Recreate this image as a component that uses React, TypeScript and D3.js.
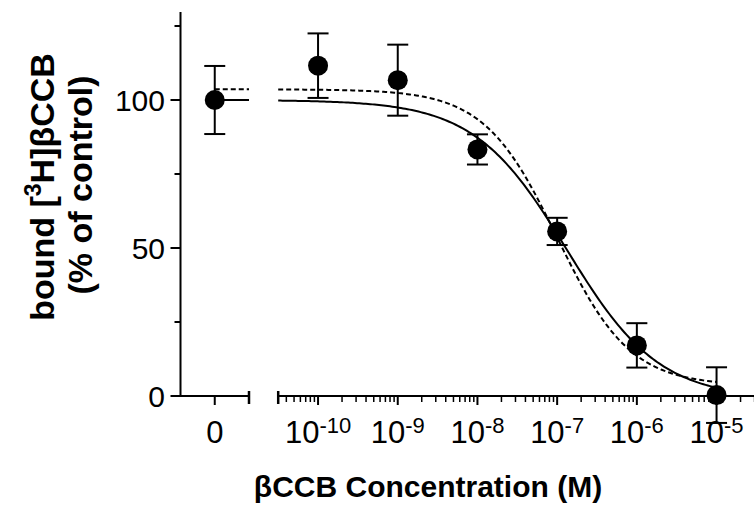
import React from "react";
import * as d3 from "d3";

// ---- data ----
const controlLabel = "0";
const controlMean = [100];
const controlErr = [11.5];
const concentrations = [1e-10, 1e-9, 1e-8, 1e-7, 1e-6, 1e-5];
const boundMean = [111.6, 106.7, 83.3, 55.6, 17.1, 0.3];
const boundErr = [10.9, 12.0, 5.1, 4.6, 7.5, 9.4];
const decadeExponents = [-10, -9, -8, -7, -6, -5];
const yTicks = [0, 25, 50, 75, 100, 125];
const yTickLabels = ["0", "", "50", "", "100", ""];
// fitted sigmoid parameters [top, bottom, logIC50, hill]
const fitSolid = [100, -1, -6.88, 0.75];
const fitDashed = [103.6, 3.5, -7.0, 0.95];

const W = 754;
const H = 507;
const FONT = "'Liberation Sans', Arial, Helvetica, sans-serif";

const yScale = d3.scaleLinear().domain([0, 125]).range([396, 26]);
const xCtrl = d3.scaleLinear().domain([-1, 1]).range([180.5, 249]);
const xLog = d3
  .scaleLog()
  .domain([Math.pow(10, -10.5), Math.pow(10, -4.5)])
  .range([278.2, 756.4]);

function sigmoid(p: number[], logx: number) {
  const [top, bottom, c, h] = p;
  return bottom + (top - bottom) / (1 + Math.pow(10, (logx - c) * h));
}

function curvePath(p: number[]) {
  const pts: [number, number][] = [];
  const n = 200;
  const a = -10.5;
  const b = -5;
  for (let i = 0; i <= n; i++) {
    const lx = a + ((b - a) * i) / n;
    pts.push([xLog(Math.pow(10, lx)), yScale(sigmoid(p, lx))]);
  }
  return d3.line()(pts) || "";
}

export default function App() {
  const axisY = yScale(0);
  const stroke = "#000";
  const minorTicks: number[] = [];
  for (let e = -11; e <= -5; e++) {
    for (let m = 2; m <= 9; m++) {
      const v = m * Math.pow(10, e);
      if (v > Math.pow(10, -10.5) && v < Math.pow(10, -4.5)) minorTicks.push(v);
    }
  }
  const cx0 = xCtrl(0);
  const capW = 10.5;
  const r = 10;

  const errBar = (x: number, m: number, e: number, key: string) => (
    <g key={key} stroke={stroke} strokeWidth={2}>
      <line x1={x} x2={x} y1={yScale(m + e)} y2={yScale(m - e)} />
      <line x1={x - capW} x2={x + capW} y1={yScale(m + e)} y2={yScale(m + e)} />
      <line x1={x - capW} x2={x + capW} y1={yScale(m - e)} y2={yScale(m - e)} />
    </g>
  );

  return (
    <svg
      width={W}
      height={H}
      style={{ position: "absolute", left: 0, top: 0, background: "#fff" }}
      fontFamily={FONT}
    >
      <rect width={W} height={H} fill="#fff" />
      {/* Y axis */}
      <line x1={180.5} x2={180.5} y1={12} y2={axisY + 1} stroke={stroke} strokeWidth={2} />
      {yTicks.map((t, i) => (
        <g key={"yt" + i}>
          <line
            x1={180.5 - (yTickLabels[i] ? 10 : 6)}
            x2={180.5}
            y1={yScale(t)}
            y2={yScale(t)}
            stroke={stroke}
            strokeWidth={2}
          />
          {yTickLabels[i] && (
            <text x={165} y={yScale(t) + 10.7} textAnchor="end" fontSize={30}>
              {yTickLabels[i]}
            </text>
          )}
        </g>
      ))}
      {/* X axis, control segment */}
      <line x1={180.5} x2={249} y1={axisY} y2={axisY} stroke={stroke} strokeWidth={2} />
      <line x1={cx0} x2={cx0} y1={axisY} y2={axisY + 9} stroke={stroke} strokeWidth={2} />
      <line x1={249} x2={249} y1={axisY - 5} y2={axisY + 8} stroke={stroke} strokeWidth={2.5} />
      <text x={cx0} y={443} textAnchor="middle" fontSize={31}>
        {controlLabel}
      </text>
      {/* X axis, log segment */}
      <line x1={xLog.range()[0]} x2={W + 5} y1={axisY} y2={axisY} stroke={stroke} strokeWidth={2} />
      <line
        x1={xLog.range()[0]}
        x2={xLog.range()[0]}
        y1={axisY - 5}
        y2={axisY + 8}
        stroke={stroke}
        strokeWidth={2.5}
      />
      {minorTicks.map((v, i) => (
        <line
          key={"mt" + i}
          x1={xLog(v)}
          x2={xLog(v)}
          y1={axisY}
          y2={axisY + 6}
          stroke={stroke}
          strokeWidth={1.5}
        />
      ))}
      {decadeExponents.map((e) => {
        const x = xLog(Math.pow(10, e));
        return (
          <g key={"dt" + e}>
            <line x1={x} x2={x} y1={axisY} y2={axisY + 9} stroke={stroke} strokeWidth={2} />
            <text x={x} y={443} textAnchor="middle" fontSize={31}>
              10
              <tspan fontSize={22} dy={-10}>
                {String(e)}
              </tspan>
            </text>
          </g>
        );
      })}
      {/* curves */}
      <line
        x1={cx0}
        x2={249}
        y1={yScale(fitSolid[0])}
        y2={yScale(fitSolid[0])}
        stroke={stroke}
        strokeWidth={2}
      />
      <line
        x1={cx0}
        x2={249}
        y1={yScale(fitDashed[0])}
        y2={yScale(fitDashed[0])}
        stroke={stroke}
        strokeWidth={2}
        strokeDasharray="5,3"
      />
      <path d={curvePath(fitSolid)} fill="none" stroke={stroke} strokeWidth={2} />
      <path
        d={curvePath(fitDashed)}
        fill="none"
        stroke={stroke}
        strokeWidth={2}
        strokeDasharray="5,3"
      />
      {/* error bars and points */}
      {errBar(cx0, controlMean[0], controlErr[0], "ec")}
      {concentrations.map((c, i) => errBar(xLog(c), boundMean[i], boundErr[i], "e" + i))}
      <circle cx={cx0} cy={yScale(controlMean[0])} r={r} fill={stroke} />
      {concentrations.map((c, i) => (
        <circle key={"p" + i} cx={xLog(c)} cy={yScale(boundMean[i])} r={r} fill={stroke} />
      ))}
      {/* titles */}
      <text x={428} y={497} textAnchor="middle" fontSize={30} fontWeight="bold">
        βCCB Concentration (M)
      </text>
      <g transform="translate(54,187) rotate(-90)">
        <text x={0} y={0} textAnchor="middle" fontSize={34} fontWeight="bold">
          bound [
          <tspan fontSize={23} dy={-13}>3</tspan>
          <tspan dy={13}>H]βCCB</tspan>
        </text>
      </g>
      <g transform="translate(92,185) rotate(-90)">
        <text x={0} y={0} textAnchor="middle" fontSize={34} fontWeight="bold">
          (% of control)
        </text>
      </g>
    </svg>
  );
}
